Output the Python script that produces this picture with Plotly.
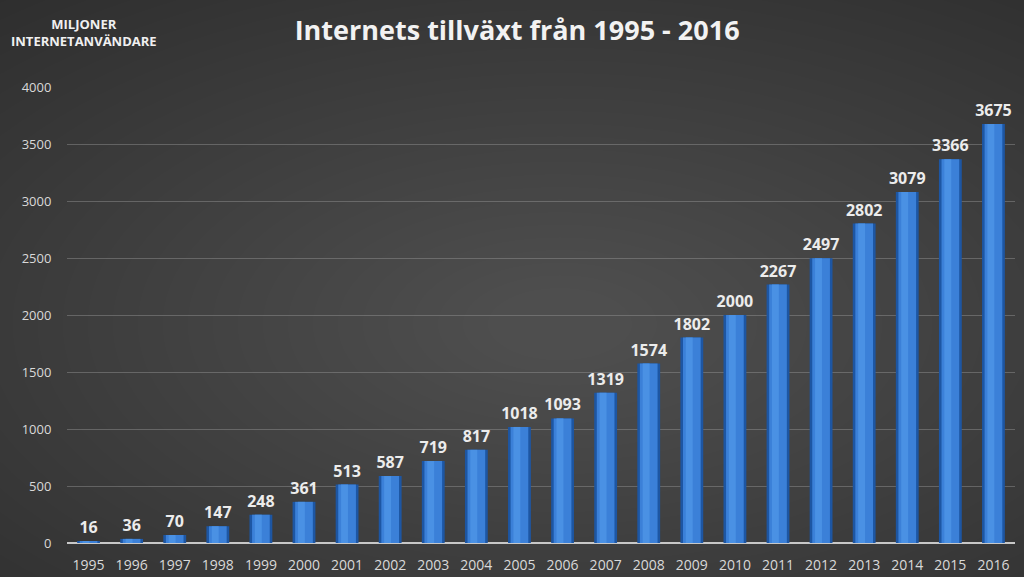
import plotly.graph_objects as go

years = [str(y) for y in range(1995, 2017)]
users = [16, 36, 70, 147, 248, 361, 513, 587, 719, 817, 1018, 1093, 1319, 1574,
         1802, 2000, 2267, 2497, 2802, 3079, 3366, 3675]
y_ticks = [0, 500, 1000, 1500, 2000, 2500, 3000, 3500, 4000]

title_text = "Internets tillväxt från 1995 - 2016"
y_label = "MILJONER<br>INTERNETANVÄNDARE"

FONT = "Open Sans, Lato, sans-serif"

fig = go.Figure()
# outer darker edge of the bar
fig.add_trace(go.Bar(x=years, y=users, width=0.53, marker=dict(color="#1d56a3", line=dict(width=0)),
                     text=[str(v) for v in users], textposition="outside", cliponaxis=False,
                     constraintext="none",
                     textfont=dict(family=FONT, size=16, color="#ececec", weight="bold"),
                     hoverinfo="skip"))
# inner lighter body
fig.add_trace(go.Bar(x=years, y=users, width=0.41, marker=dict(color="#3b80d8", line=dict(width=0)),
                     hoverinfo="skip"))
# highlight stripe
fig.add_trace(go.Bar(x=years, y=users, width=0.16, offset=-0.14, marker=dict(color="#4a91e4", line=dict(width=0)),
                     hoverinfo="skip"))

# radial-ish background gradient via concentric ellipses
shapes = []
n = 36
cx, cy = 0.52, 0.48
for i in range(n):
    f = 1 - i / n
    rx = 0.05 + 0.95 * f
    ry = 0.05 + 0.95 * f
    shapes.append(dict(type="circle", xref="paper", yref="paper", layer="below",
                       x0=cx - rx, x1=cx + rx, y0=cy - ry * 1.05, y1=cy + ry * 1.05,
                       fillcolor="rgba(255,255,255,0.0068)", line=dict(width=0)))

fig.update_layout(
    width=1024, height=577,
    barmode="overlay",
    showlegend=False,
    paper_bgcolor="#2a2a2a",
    plot_bgcolor="rgba(0,0,0,0)",
    margin=dict(l=67, r=9, t=87, b=34, autoexpand=False),
    shapes=shapes,
    title=dict(text="<b>" + title_text + "</b>", x=0.505, xanchor="center", y=0.947, yanchor="middle",
               font=dict(family=FONT, size=27, color="#f2f2f2")),
    xaxis=dict(type="category", showgrid=False, tickfont=dict(family=FONT, size=14, color="#d9d9d9"),
               ticks="outside", ticklen=9, tickcolor="rgba(0,0,0,0)", showline=False, zeroline=False,
               automargin=False),
    yaxis=dict(range=[0, 4000], tickvals=y_ticks, showgrid=True, gridcolor="rgba(150,150,150,0.45)", gridwidth=1,
               tickfont=dict(family=FONT, size=13, color="#d9d9d9"),
               zeroline=True, zerolinecolor="#c8c8c8", zerolinewidth=2,
               ticks="outside", ticklen=12, tickcolor="rgba(0,0,0,0)", automargin=False),
    annotations=[dict(text="<b>" + y_label + "</b>", xref="paper", yref="paper", x=0.018, y=1.12,
                      xanchor="center", yanchor="middle", showarrow=False,
                      font=dict(family=FONT, size=13, color="#f0f0f0"))],
)

fig.write_html("out.html", config={"displayModeBar": False},
               post_script="document.body.style.margin='0';document.body.style.overflow='hidden';")
